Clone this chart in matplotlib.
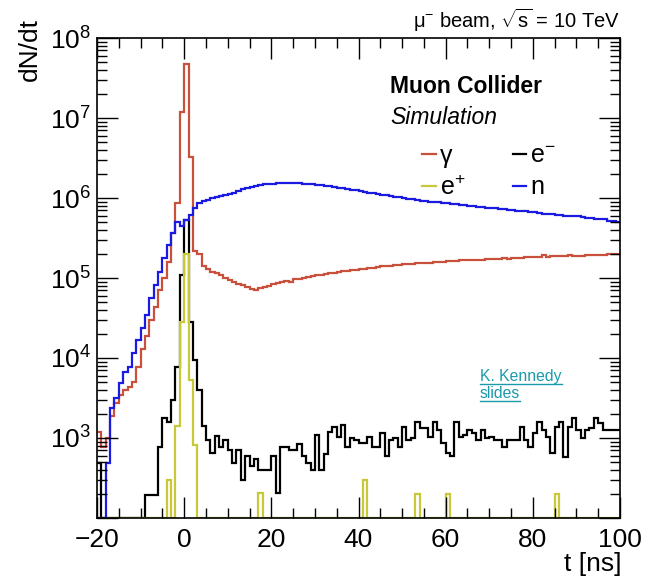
import numpy as np
import matplotlib
matplotlib.use("Agg")
import matplotlib.pyplot as plt
from matplotlib.lines import Line2D
from matplotlib.ticker import LogLocator, MultipleLocator, FuncFormatter

plt.rcParams['font.family'] = ['Liberation Sans', 'DejaVu Sans']
plt.rcParams['mathtext.fontset'] = 'custom'
plt.rcParams['mathtext.rm'] = 'Liberation Sans'
plt.rcParams['mathtext.it'] = 'Liberation Sans:italic'
plt.rcParams['mathtext.bf'] = 'Liberation Sans:bold'

# ---------------- data (1 ns bins from -20 to 100 ns) ----------------
bin_edges = np.arange(-20, 101, 1)

gamma = [
    1200, 780, 1000, 1900, 2700, 3400, 4000, 4300, 5000, 7800,          # -20..-11
    13000, 19000, 30000, 44000, 70000, 100000, 160000, 360000, 870000, 1.2e7,  # -10..-1
    4.7e7, 3.3e6, 2.2e5, 2.0e5, 1.4e5, 1.3e5, 1.2e5, 1.15e5, 1.1e5, 1.0e5,    # 0..9
    9.5e4, 9.0e4, 8.5e4, 8.2e4, 7.8e4, 7.2e4, 7.0e4, 7.4e4, 7.8e4, 8.0e4,    # 10..19
    8.3e4, 8.6e4, 8.8e4, 9.2e4, 9.0e4, 9.6e4, 9.8e4, 1.0e5, 1.02e5, 1.06e5,  # 20..29
    1.08e5, 1.1e5, 1.12e5, 1.15e5, 1.14e5, 1.2e5, 1.22e5, 1.22e5, 1.25e5, 1.27e5,  # 30..39
    1.3e5, 1.3e5, 1.33e5, 1.35e5, 1.38e5, 1.4e5, 1.42e5, 1.43e5, 1.45e5, 1.46e5,   # 40..49
    1.48e5, 1.5e5, 1.5e5, 1.52e5, 1.54e5, 1.55e5, 1.56e5, 1.58e5, 1.6e5, 1.6e5,    # 50..59
    1.62e5, 1.63e5, 1.64e5, 1.66e5, 1.67e5, 1.68e5, 1.68e5, 1.7e5, 1.7e5, 1.72e5,  # 60..69
    1.73e5, 1.74e5, 1.75e5, 1.76e5, 1.75e5, 1.78e5, 1.8e5, 1.79e5, 1.82e5, 1.81e5, # 70..79
    1.83e5, 1.84e5, 1.92e5, 1.85e5, 1.86e5, 1.87e5, 1.86e5, 1.88e5, 1.95e5, 1.88e5, # 80..89
    1.9e5, 1.9e5, 1.92e5, 1.93e5, 1.92e5, 1.95e5, 1.96e5, 1.97e5, 1.98e5, 2.0e5,   # 90..99
]

electron = [
    490, 0, 0, 0, 0, 0, 0, 0, 0, 0,                       # -20..-11
    0, 195, 195, 195, 780, 1800, 1600, 3000, 7800, 1.1e5,  # -10..-1
    5.3e5, 2.8e4, 9.4e3, 4.0e3, 1400, 940, 650, 1050, 780, 940,   # 0..9
    700, 490, 700, 300, 600, 450, 550, 400, 400, 400,      # 10..19
    600, 205, 780, 780, 700, 700, 850, 600, 490, 400,      # 20..29
    1100, 400, 630, 1200, 1380, 1040, 1450, 780, 1000, 940,   # 30..39
    860, 860, 1040, 780, 780, 1140, 600, 940, 990, 780,    # 40..49
    1380, 940, 990, 1600, 1320, 1320, 1040, 1600, 1260, 860,  # 50..59
    645, 600, 1600, 1040, 1090, 1260, 1140, 940, 1260, 990,   # 60..69
    1040, 940, 940, 780, 940, 940, 940, 1380, 940, 780,    # 70..79
    1140, 1600, 1260, 1040, 645, 1380, 1600, 585, 1380, 1760,  # 80..89
    1260, 990, 1260, 1320, 1760, 1520, 1260, 1260, 1260, 1260, # 90..99
]

positron = [0] * 120
positron_bins = [-4, -2, -1, 0, 1, 2, 17, 41, 53, 60, 85]
positron_vals = [300, 1400, 2.8e4, 2.0e5, 5.3e3, 820, 205, 300, 200, 200, 200]
for b, v in zip(positron_bins, positron_vals):
    positron[b + 20] = v

neutron = [
    0, 0, 490, 2400, 3200, 4900, 6700, 7800, 11500, 17000,       # -20..-11
    24000, 34000, 56000, 82000, 1.2e5, 1.8e5, 2.6e5, 3.6e5, 5.0e5, 4.5e5,  # -10..-1
    5.3e5, 6.1e5, 7.5e5, 8.7e5, 9.2e5, 9.5e5, 1.0e6, 1.03e6, 1.06e6, 1.1e6,  # 0..9
    1.13e6, 1.17e6, 1.22e6, 1.28e6, 1.34e6, 1.38e6, 1.42e6, 1.45e6, 1.48e6, 1.5e6,  # 10..19
    1.5e6, 1.52e6, 1.53e6, 1.53e6, 1.53e6, 1.52e6, 1.52e6, 1.5e6, 1.5e6, 1.48e6,   # 20..29
    1.46e6, 1.44e6, 1.42e6, 1.4e6, 1.38e6, 1.35e6, 1.33e6, 1.3e6, 1.27e6, 1.25e6,  # 30..39
    1.22e6, 1.2e6, 1.17e6, 1.15e6, 1.12e6, 1.1e6, 1.08e6, 1.06e6, 1.04e6, 1.02e6,  # 40..49
    1.0e6, 9.8e5, 9.6e5, 9.5e5, 9.3e5, 9.2e5, 9.0e5, 8.9e5, 8.8e5, 8.7e5,          # 50..59
    8.6e5, 8.5e5, 8.4e5, 8.2e5, 8.1e5, 8.0e5, 7.9e5, 7.8e5, 7.7e5, 7.6e5,          # 60..69
    7.5e5, 7.4e5, 7.3e5, 7.2e5, 7.1e5, 7.0e5, 6.9e5, 6.8e5, 6.8e5, 6.7e5,          # 70..79
    6.6e5, 6.5e5, 6.4e5, 6.3e5, 6.3e5, 6.2e5, 6.1e5, 6.0e5, 6.0e5, 5.9e5,          # 80..89
    5.9e5, 5.8e5, 5.7e5, 5.6e5, 5.5e5, 5.5e5, 5.4e5, 5.2e5, 5.1e5, 5.0e5,          # 90..99
]

series_labels = ["γ", "e$^{-}$", "e$^{+}$", "n"]
series_colors = ["#c9503b", "#000000", "#c8c83a", "#1a1ae0"]

x_ticks = [-20, 0, 20, 40, 60, 80, 100]
y_decades = [3, 4, 5, 6, 7, 8]
Y_MIN, Y_MAX = 1e2, 1e8

# ---------------- figure ----------------
fig = plt.figure(figsize=(6.51, 5.78), dpi=100)
ax = fig.add_axes([97 / 651, 1 - 518 / 578, (620 - 97) / 651, (518 - 38) / 578])
ax.set_yscale('log')

data = [gamma, electron, positron, neutron]
for vals, col in zip(data, series_colors):
    v = np.clip(np.asarray(vals, dtype=float), Y_MIN, None)
    ax.stairs(v, bin_edges, color=col, linewidth=1.6, baseline=None)

ax.set_xlim(-20, 100)
ax.set_ylim(Y_MIN, Y_MAX)

ax.set_xticks(x_ticks)
ax.xaxis.set_minor_locator(MultipleLocator(5))
ax.yaxis.set_major_locator(LogLocator(base=10, numticks=20))
ax.yaxis.set_minor_locator(LogLocator(base=10, subs=np.arange(2, 10), numticks=20))


def yfmt(v, pos):
    e = int(round(np.log10(v)))
    if e in y_decades:
        return r'$10^{%d}$' % e
    return ''


ax.yaxis.set_major_formatter(FuncFormatter(yfmt))
ax.xaxis.set_major_formatter(FuncFormatter(lambda v, p: ('\u2212%d' % -v) if v < 0 else '%d' % v))

ax.tick_params(which='both', direction='in', top=True, right=True, width=1)
ax.tick_params(which='major', length=15, labelsize=19)
ax.tick_params(axis='x', which='major', pad=7)
ax.tick_params(axis='y', which='major', pad=4)
ax.tick_params(which='minor', length=7.5)
for s in ax.spines.values():
    s.set_linewidth(1.2)

# axis titles
fig.text(30 / 651, 1 - 18 / 578, 'dN/dt', rotation=90, ha='center', va='top', fontsize=19)
fig.text(622 / 651, 1 - 576 / 578, 't [ns]', ha='right', va='bottom', fontsize=19)

# header
fig.text(620 / 651, 1 - 28 / 578, 'μ$^{-}$ beam, $\\sqrt{\\mathrm{s}}$ = 10 TeV', ha='right',
         va='baseline', fontsize=14.5)

fig.text(390 / 651, 1 - 93 / 578, 'Muon Collider', ha='left', va='baseline',
         fontsize=16.5, fontweight='bold')
fig.text(390 / 651, 1 - 124 / 578, 'Simulation', ha='left', va='baseline',
         fontsize=16.5, style='italic')

# legend (column-major: γ, e+, e-, n)
handles = [Line2D([], [], color=c, lw=1.6) for c in series_colors]
order = [0, 2, 1, 3]
leg = fig.legend([handles[i] for i in order], [series_labels[i] for i in order],
                 ncol=2, frameon=False, loc='upper left',
                 bbox_to_anchor=(422 / 651, 1 - 144 / 578), fontsize=18,
                 handlelength=0.55, handletextpad=0.15, columnspacing=1.9,
                 labelspacing=0.3, borderpad=0, borderaxespad=0)

# link note
link_color = '#1a9aaa'
t1 = fig.text(480 / 651, 1 - 381 / 578, 'K. Kennedy', ha='left', va='baseline',
              fontsize=11.3, color=link_color)
t2 = fig.text(480 / 651, 1 - 398 / 578, 'slides', ha='left', va='baseline',
              fontsize=11.3, color=link_color)
fig.canvas.draw()
r = fig.canvas.get_renderer()
for t in (t1, t2):
    bb = t.get_window_extent(r)
    y = (t.get_position()[1] * fig.bbox.height - 2.5) / fig.bbox.height
    fig.add_artist(Line2D([bb.x0 / fig.bbox.width, bb.x1 / fig.bbox.width], [y, y],
                          color=link_color, lw=1.0, transform=fig.transFigure))

fig.savefig('out.png', dpi=100)
